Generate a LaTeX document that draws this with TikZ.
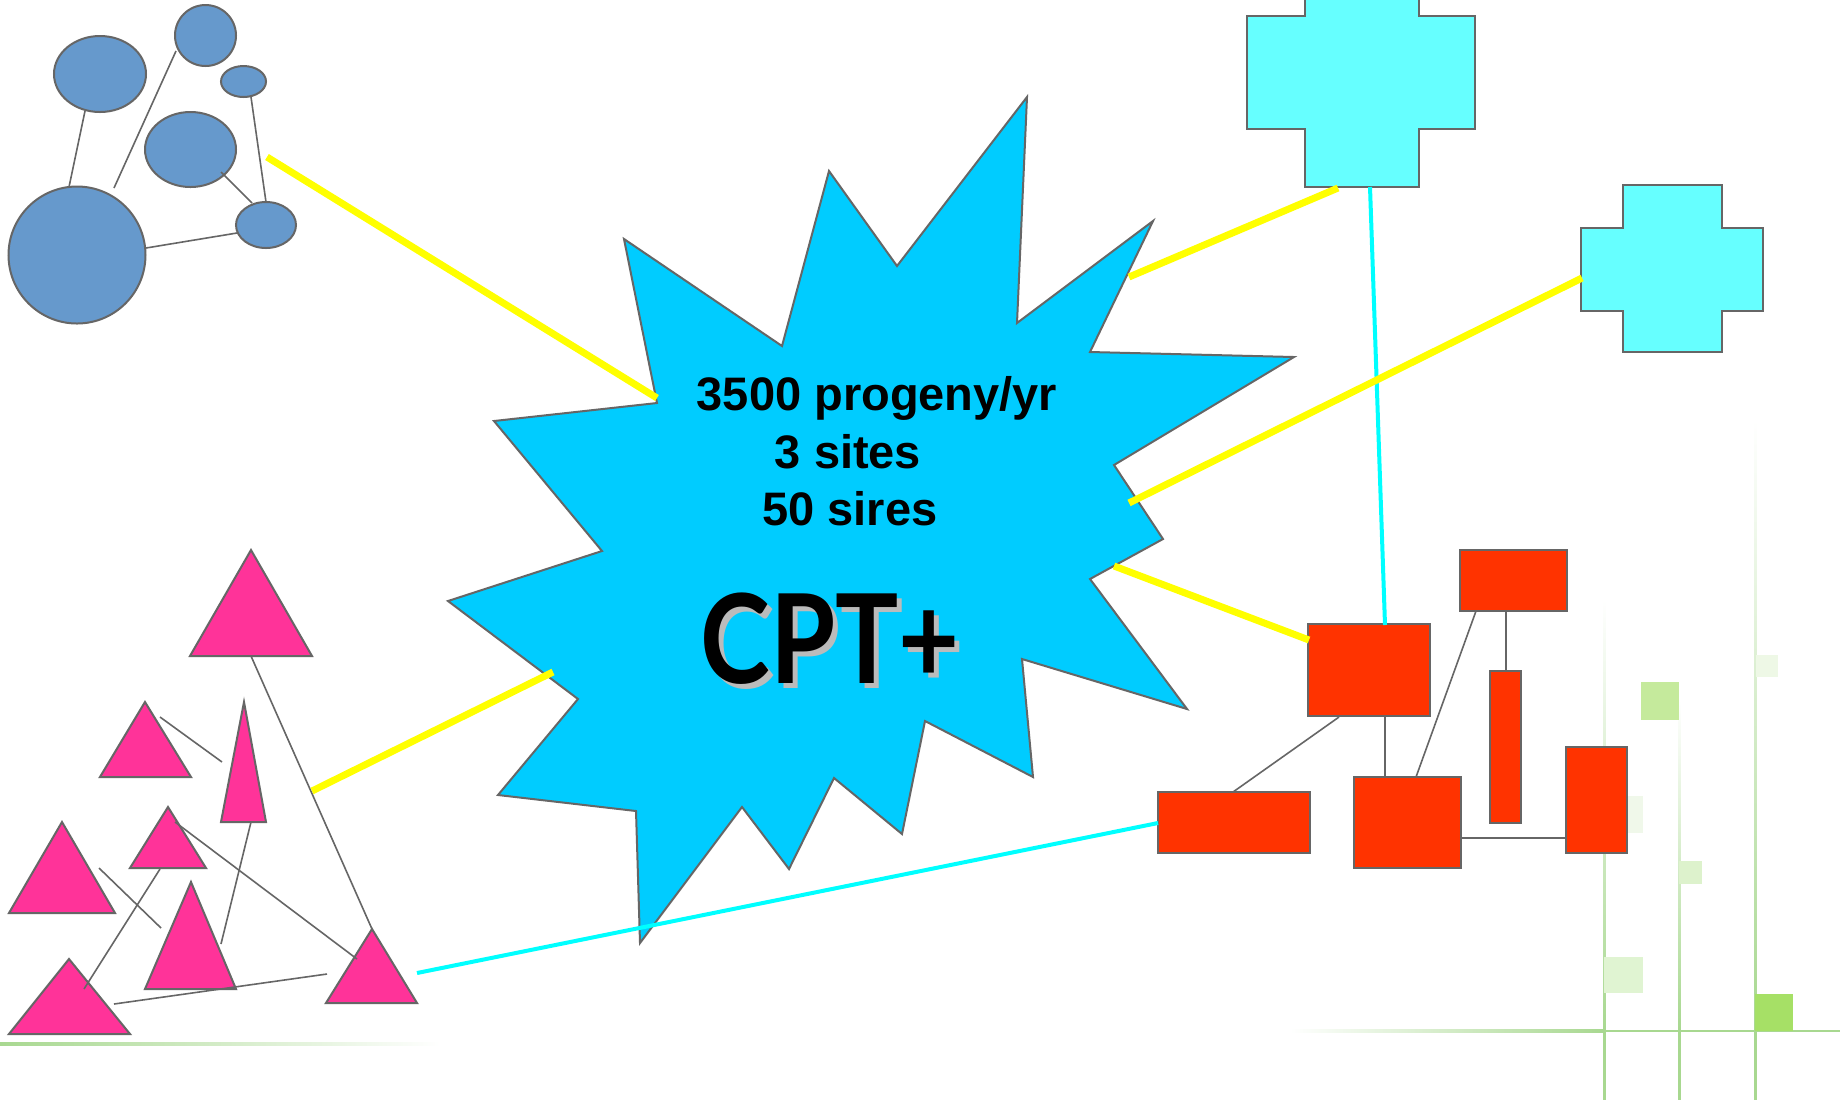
\documentclass[tikz,border=0pt]{standalone}
\usepackage{fontspec}
\setmainfont{Liberation Sans}
\newfontfamily\comicfont{Lato}
\usetikzlibrary{shapes.geometric}
\definecolor{starblue}{HTML}{00CCFF}
\definecolor{edgegray}{HTML}{666666}
\definecolor{ballblue}{HTML}{6699CC}
\definecolor{crosscyan}{HTML}{66FFFF}
\definecolor{boxred}{HTML}{FF3300}
\definecolor{tripink}{HTML}{FF3399}
\definecolor{hotline}{HTML}{FFFF00}
\definecolor{cyanline}{HTML}{00FFFF}
\definecolor{gline}{HTML}{A8D890}
\definecolor{shadowgray}{HTML}{BBBBBB}
\tikzset{
  outl/.style={draw=edgegray, line width=1pt, line join=miter},
  ball/.style={ellipse, outl, fill=ballblue, inner sep=0pt},
  redbox/.style={rectangle, outl, fill=boxred, inner sep=0pt},
  tri/.style={outl, fill=tripink},
  plus/.style={outl, fill=crosscyan},
  burst/.style={outl, fill=starblue},
  link/.style={draw=edgegray, line width=0.8pt},
  yel/.style={draw=hotline, line width=3.5pt},
  cyn/.style={draw=cyanline, line width=2pt},
  label/.style={anchor=base, inner sep=0pt, font=\fontsize{23.5}{28}\selectfont\bfseries},
  cpt/.style={anchor=base west, inner sep=0pt, xscale=0.85, font=\comicfont\bfseries\fontsize{62}{70}\selectfont}
}
\begin{document}
\begin{tikzpicture}[x=0.5pt, y=-0.5pt]
\clip (0,0) rectangle (1840,1100);
\fill[white] (0,0) rectangle (1840,1100);

% faint green background decoration
\shade[left color=gline, right color=white] (0,1042.5) rectangle (440,1045.5);
\shade[left color=white, right color=gline] (1290,1029.5) rectangle (1604,1032);
\fill[gline] (1604,1029.5) rectangle (1840,1032);
\shade[top color=white, bottom color=gline] (1603,600) rectangle (1605.5,1031);
\fill[gline] (1603,1031) rectangle (1605.5,1100);
\shade[top color=white, bottom color=gline] (1678,700) rectangle (1680.5,1031);
\fill[gline] (1678,1031) rectangle (1680.5,1100);
\shade[top color=white, bottom color=gline] (1754,420) rectangle (1756.5,1031);
\fill[gline] (1754,1031) rectangle (1756.5,1100);
\fill[fill={rgb,255:red,197;green,234;blue,156}] (1641,682) rectangle (1679,720);
\fill[fill={rgb,255:red,238;green,248;blue,230}] (1756,655) rectangle (1778,677);
\fill[fill={rgb,255:red,240;green,248;blue,234}] (1604,796) rectangle (1643,833);
\fill[fill={rgb,255:red,221;green,242;blue,204}] (1679,861) rectangle (1702,884);
\fill[fill={rgb,255:red,224;green,244;blue,210}] (1604,957) rectangle (1643,993);
\fill[fill={rgb,255:red,166;green,224;blue,102}] (1755,994) rectangle (1793,1031);

% blue balls
\node[ball, minimum width=68.5pt, minimum height=68.5pt] (big) at (77,255) {};
\node[ball, minimum width=46pt, minimum height=38pt] (ballTL) at (100,74) {};
\node[ball, minimum width=30.5pt, minimum height=30.5pt] (ballTop) at (205.5,35.5) {};
\node[ball, minimum width=22.5pt, minimum height=15.5pt] (ballSm) at (243.5,81.5) {};
\node[ball, minimum width=45.5pt, minimum height=37.5pt] (ballMid) at (190.5,149.5) {};
\node[ball, minimum width=30pt, minimum height=23pt] (ballR) at (266,225) {};

% star
\draw[burst] (624,239) -- (782,346) -- (829,171) -- (897,266) -- (1027,97) -- (1017,323)
  -- (1153,221) -- (1090,352) -- (1294,357) -- (1114,465) -- (1163,539) -- (1090,579)
  -- (1187,709) -- (1022,659) -- (1033,777) -- (925,721) -- (902,834) -- (834,778)
  -- (789,869) -- (742,807) -- (640,943) -- (636,811) -- (498,795) -- (578,699)
  -- (448,601) -- (602,551) -- (494,421) -- (657,403) -- cycle;

\node[label] (t1) at (877,410) {3500 progeny/yr};
\node[label] (t2) at (848,468) {3 sites};
\node[label] (t3) at (850,525) {50 sires};
\node[cpt, text=shadowgray] (cptshadow) at (705,688) {CPT+};
\node[cpt, text=black] (cptlabel) at (700,683) {CPT+};

% crosses
\draw[plus] (1305,-42) -- (1419,-42) -- (1419,16) -- (1475,16) -- (1475,129) -- (1419,129)
  -- (1419,187) -- (1305,187) -- (1305,129) -- (1247,129) -- (1247,16) -- (1305,16) -- cycle;
\draw[plus] (1623,185) -- (1722,185) -- (1722,228) -- (1763,228) -- (1763,311) -- (1722,311)
  -- (1722,352) -- (1623,352) -- (1623,311) -- (1581,311) -- (1581,228) -- (1623,228) -- cycle;

% red boxes
\node[redbox, minimum width=61pt, minimum height=46pt] (boxA) at (1369,670) {};
\node[redbox, minimum width=53.5pt, minimum height=30.5pt] (boxB) at (1513.5,580.5) {};
\node[redbox, minimum width=15.5pt, minimum height=76pt] (boxC) at (1505.5,747) {};
\node[redbox, minimum width=76pt, minimum height=30.5pt] (boxD) at (1234,822.5) {};
\node[redbox, minimum width=53.5pt, minimum height=45.5pt] (boxE) at (1407.5,822.5) {};
\node[redbox, minimum width=30.5pt, minimum height=53pt] (boxF) at (1596.5,800) {};

% pink triangles
\draw[tri] (251,550) -- (190,656) -- (312,656) -- cycle;
\draw[tri] (145,702) -- (100,777) -- (191,777) -- cycle;
\draw[tri] (244,702) -- (221,822) -- (266,822) -- cycle;
\draw[tri] (168,807) -- (130,868) -- (206,868) -- cycle;
\draw[tri] (62,822) -- (9,913) -- (115,913) -- cycle;
\draw[tri] (191,882) -- (145,989) -- (236,989) -- cycle;
\draw[tri] (69,959) -- (9,1034) -- (130,1034) -- cycle;
\draw[tri] (372,929) -- (326,1003) -- (417,1003) -- cycle;

% connector end points
\coordinate (b1) at (85,111);   \coordinate (b2) at (69,187);
\coordinate (b3) at (176,51);   \coordinate (b4) at (114,188);
\coordinate (b5) at (251,97);   \coordinate (b6) at (266,202);
\coordinate (b7) at (221,172);  \coordinate (b8) at (252,203);
\coordinate (b9) at (146,248);  \coordinate (b10) at (237,233);
\coordinate (p1) at (251,656);  \coordinate (p2) at (372,929);
\coordinate (p3) at (160,717);  \coordinate (p4) at (222,762);
\coordinate (p5) at (251,822);  \coordinate (p6) at (221,944);
\coordinate (p7) at (175,822);  \coordinate (p8) at (357,959);
\coordinate (p9) at (99,868);   \coordinate (p10) at (161,928);
\coordinate (p11) at (160,869); \coordinate (p12) at (84,989);
\coordinate (p13) at (114,1004); \coordinate (p14) at (327,974);
\coordinate (r1) at (1339,717); \coordinate (r2) at (1233,792);
\coordinate (r3) at (1385,717); \coordinate (r4) at (1385,777);
\coordinate (r5) at (1476,611); \coordinate (r6) at (1416,777);
\coordinate (r7) at (1506,611); \coordinate (r8) at (1506,671);
\coordinate (r9) at (1461,838); \coordinate (r10) at (1566,838);
\coordinate (y1a) at (267,157);  \coordinate (y1b) at (657,398);
\coordinate (y2a) at (1129,277); \coordinate (y2b) at (1338,188);
\coordinate (y3a) at (1129,503); \coordinate (y3b) at (1582,278);
\coordinate (y4a) at (1114,566); \coordinate (y4b) at (1309,640);
\coordinate (y5a) at (312,791);  \coordinate (y5b) at (553,672);
\coordinate (c1a) at (1370,187); \coordinate (c1b) at (1385,625);
\coordinate (c2a) at (417,973);  \coordinate (c2b) at (1158,823);

% gray links
\draw[link] (b1) -- (b2);
\draw[link] (b3) -- (b4);
\draw[link] (b5) -- (b6);
\draw[link] (b7) -- (b8);
\draw[link] (b9) -- (b10);
\draw[link] (p1) -- (p2);
\draw[link] (p3) -- (p4);
\draw[link] (p5) -- (p6);
\draw[link] (p7) -- (p8);
\draw[link] (p9) -- (p10);
\draw[link] (p11) -- (p12);
\draw[link] (p13) -- (p14);
\draw[link] (r1) -- (r2);
\draw[link] (r3) -- (r4);
\draw[link] (r5) -- (r6);
\draw[link] (r7) -- (r8);
\draw[link] (r9) -- (r10);

% cyan links
\draw[cyn] (c1a) -- (c1b);
\draw[cyn] (c2a) -- (c2b);

% yellow links
\draw[yel] (y1a) -- (y1b);
\draw[yel] (y2a) -- (y2b);
\draw[yel] (y3a) -- (y3b);
\draw[yel] (y4a) -- (y4b);
\draw[yel] (y5a) -- (y5b);
\end{tikzpicture}
\end{document}
